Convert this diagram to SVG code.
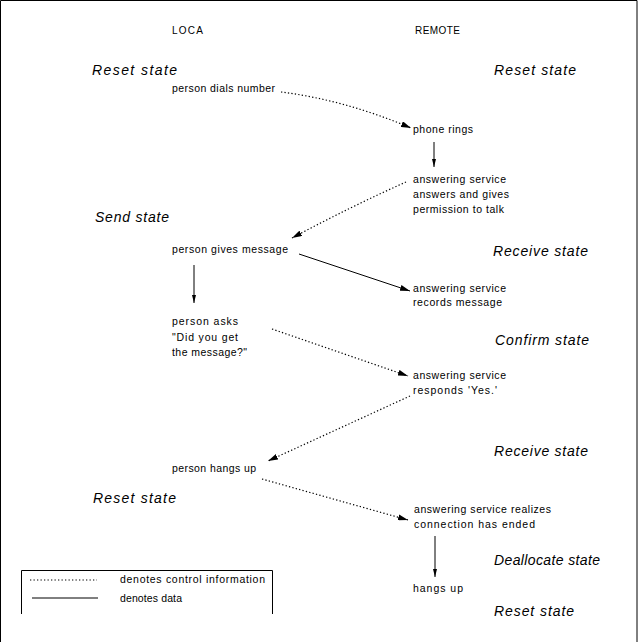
<svg xmlns="http://www.w3.org/2000/svg" width="638" height="642" viewBox="0 0 638 642">
<defs>
<style>
.t{font-family:"Liberation Sans",Arial,sans-serif;font-size:10.5px;fill:#000}
.h{font-family:"Liberation Sans",Arial,sans-serif;font-size:10px;fill:#000}
.s{font-family:"Liberation Sans",Arial,sans-serif;font-size:14px;font-style:italic;fill:#000}
.d{fill:none;stroke:#000;stroke-width:1.2;stroke-dasharray:1.3 2.2}
.l{fill:none;stroke:#000;stroke-width:1}
</style>
<marker id="ah" viewBox="0 0 10 6" refX="10" refY="3" markerWidth="10" markerHeight="6" markerUnits="userSpaceOnUse" orient="auto">
<path d="M0,0 L10,3 L0,6 z" fill="#000"/>
</marker>
<marker id="av" viewBox="0 0 8 4" refX="8" refY="2" markerWidth="8" markerHeight="4" markerUnits="userSpaceOnUse" orient="auto">
<path d="M0,0 L8,2 L0,4 z" fill="#000"/>
</marker>
</defs>
<rect width="638" height="642" fill="#fff"/>
<g id="frame">
<path class="l" d="M0.5,642 V0.5 H637 V642"/>
</g>
<g id="headers">
<text class="h" x="172" y="34" textLength="31">LOCA</text>
<text class="h" x="415" y="34" textLength="45">REMOTE</text>
</g>
<g id="states">
<text class="s" x="92" y="75" textLength="85">Reset state</text>
<text class="s" x="494" y="75" textLength="82">Reset state</text>
<text class="s" x="95" y="222" textLength="74">Send state</text>
<text class="s" x="493" y="256" textLength="95">Receive state</text>
<text class="s" x="495" y="345" textLength="94">Confirm state</text>
<text class="s" x="494" y="456" textLength="94">Receive state</text>
<text class="s" x="93" y="503" textLength="83">Reset state</text>
<text class="s" x="494" y="565" textLength="106">Deallocate state</text>
<text class="s" x="494" y="616" textLength="80">Reset state</text>
</g>
<g id="n1"><text class="t" x="172" y="92" textLength="103">person dials number</text></g>
<g id="n2"><text class="t" x="413" y="133" textLength="60">phone rings</text></g>
<g id="n3">
<text class="t" x="413" y="183" textLength="93">answering service</text>
<text class="t" x="413" y="198" textLength="96">answers and gives</text>
<text class="t" x="413" y="213" textLength="91">permission to talk</text>
</g>
<g id="n4"><text class="t" x="172" y="253" textLength="116">person gives message</text></g>
<g id="n5">
<text class="t" x="413" y="292" textLength="93">answering service</text>
<text class="t" x="413" y="306" textLength="89">records message</text>
</g>
<g id="n6">
<text class="t" x="172" y="325" textLength="66">person asks</text>
<text class="t" x="172" y="341" textLength="66">"Did you get</text>
<text class="t" x="172" y="356" textLength="75">the message?"</text>
</g>
<g id="n7">
<text class="t" x="413" y="379" textLength="93">answering service</text>
<text class="t" x="413" y="394" textLength="84">responds 'Yes.'</text>
</g>
<g id="n8"><text class="t" x="172" y="472" textLength="84">person hangs up</text></g>
<g id="n9">
<text class="t" x="414" y="513" textLength="137">answering service realizes</text>
<text class="t" x="414" y="528" textLength="121">connection has ended</text>
</g>
<g id="n10"><text class="t" x="413" y="592" textLength="50">hangs up</text></g>
<g id="connectors">
<path class="d" d="M281,92 Q345,100 411,128" marker-end="url(#ah)"/>
<path class="l" d="M434,142 V167" marker-end="url(#av)"/>
<path class="d" d="M406,182 Q350,207 292,238" marker-end="url(#ah)"/>
<path class="l" d="M299,254 L410,291" marker-end="url(#ah)"/>
<path class="l" d="M194,265 V303" marker-end="url(#av)"/>
<path class="d" d="M272,329 L408,376" marker-end="url(#ah)"/>
<path class="d" d="M410,396 L268,461" marker-end="url(#ah)"/>
<path class="d" d="M262,479 L408,520" marker-end="url(#ah)"/>
<path class="l" d="M435,536 V577" marker-end="url(#av)"/>
</g>
<g id="legend">
<path class="l" d="M21.5,614 V570.5 H272.5 V614"/>
<path class="d" d="M30,580 H97"/>
<path class="l" d="M32,598 H98"/>
<text class="t" x="120" y="583" textLength="145">denotes control information</text>
<text class="t" x="120" y="602" textLength="62">denotes data</text>
</g>
</svg>
